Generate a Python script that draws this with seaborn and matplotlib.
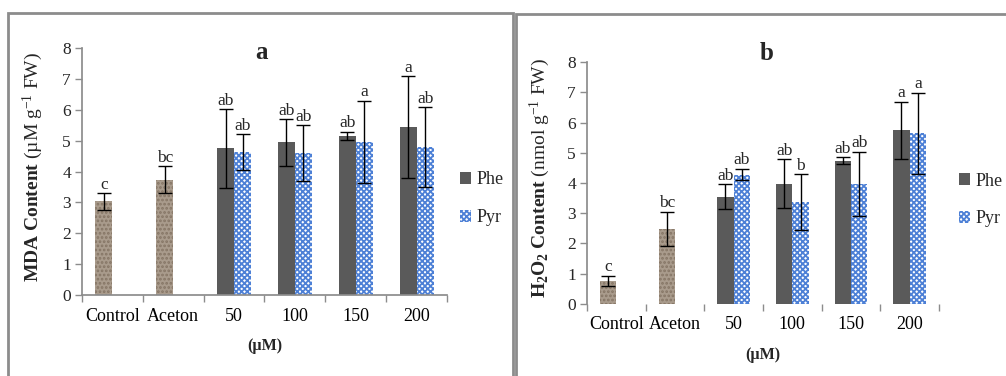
import numpy as np
import pandas as pd
import seaborn as sns
import matplotlib.pyplot as plt
from matplotlib.patches import Patch, Rectangle

sns.set_theme(style='white')
plt.rcParams['font.family'] = ['Liberation Serif', 'DejaVu Serif']
plt.rcParams['mathtext.fontset'] = 'custom'
plt.rcParams['mathtext.rm'] = 'Liberation Serif'
plt.rcParams['mathtext.it'] = 'Liberation Serif:italic'
plt.rcParams['mathtext.bf'] = 'Liberation Serif:bold'
plt.rcParams['hatch.linewidth'] = 1.3

groups = ['Control', 'Aceton', '50', '100', '150', '200']
treat = ['50', '100', '150', '200']

# panel a - MDA
mda_ctrl = [3.03, 3.74]
mda_ctrl_err = [0.27, 0.43]
mda_phe = [4.75, 4.94, 5.15, 5.44]
mda_phe_err = [1.27, 0.75, 0.14, 1.64]
mda_pyr = [4.63, 4.60, 4.97, 4.79]
mda_pyr_err = [0.57, 0.90, 1.33, 1.30]
mda_let_ctrl = ['c', 'bc']
mda_let_phe = ['ab', 'ab', 'ab', 'a']
mda_let_pyr = ['ab', 'ab', 'a', 'ab']

# panel b - H2O2
h2o2_ctrl = [0.76, 2.48]
h2o2_ctrl_err = [0.18, 0.57]
h2o2_phe = [3.55, 3.97, 4.74, 5.74]
h2o2_phe_err = [0.42, 0.81, 0.12, 0.95]
h2o2_pyr = [4.28, 3.37, 3.97, 5.64]
h2o2_pyr_err = [0.19, 0.92, 1.07, 1.35]
h2o2_let_ctrl = ['c', 'bc']
h2o2_let_phe = ['ab', 'ab', 'ab', 'a']
h2o2_let_pyr = ['ab', 'b', 'ab', 'a']


def make_df(ctrl, ctrl_err, phe, phe_err, pyr, pyr_err, l_ctrl, l_phe, l_pyr):
    rows = []
    for g, v, e, l in zip(['Control', 'Aceton'], ctrl, ctrl_err, l_ctrl):
        rows.append([g, 'Phe', v, e, l])
    for g, v, e, l in zip(treat, phe, phe_err, l_phe):
        rows.append([g, 'Phe', v, e, l])
    for g, v, e, l in zip(treat, pyr, pyr_err, l_pyr):
        rows.append([g, 'Pyr', v, e, l])
    return pd.DataFrame(rows, columns=['group', 'series', 'value', 'err', 'letter'])


df_a = make_df(mda_ctrl, mda_ctrl_err, mda_phe, mda_phe_err, mda_pyr, mda_pyr_err,
               mda_let_ctrl, mda_let_phe, mda_let_pyr)
df_b = make_df(h2o2_ctrl, h2o2_ctrl_err, h2o2_phe, h2o2_phe_err, h2o2_pyr, h2o2_pyr_err,
               h2o2_let_ctrl, h2o2_let_phe, h2o2_let_pyr)

phe_col = '#5a5a5a'
pyr_col = '#4d80d6'
ctrl_col = '#a99b8c'
ctrl_hatch = '#857565'
axis_col = '#8c8c8c'

fig = plt.figure(figsize=(10.06, 3.76), dpi=100)
ax_a = fig.add_axes([0.0815, 0.2154, 0.3628, 0.6569])
ax_b = fig.add_axes([0.5835, 0.1915, 0.3499, 0.6436])


def draw(ax, df, ylab, show_xline):
    sns.barplot(data=df, x='group', y='value', hue='series', order=groups,
                hue_order=['Phe', 'Pyr'], width=0.56, errorbar=None,
                palette=[phe_col, pyr_col], linewidth=0, ax=ax)
    for c, s in zip(ax.containers, ['Phe', 'Pyr']):
        sub = df[df['series'] == s].set_index('group')
        present = [g for g in groups if g in sub.index]
        for bar, g in zip(c, present):
            if s == 'Pyr':
                bar.set_facecolor('white')
                bar.set_edgecolor(pyr_col)
                bar.set_hatch('xxxxxx')
                bar.set_linewidth(0)
            elif g in ['Control', 'Aceton']:
                bar.set_facecolor(ctrl_col)
                bar.set_edgecolor(ctrl_hatch)
                bar.set_hatch('....')
                bar.set_linewidth(0)
            xc = bar.get_x() + bar.get_width() / 2
            v = sub.loc[g, 'value']
            e = sub.loc[g, 'err']
            ax.errorbar(xc, v, yerr=e, fmt='none', ecolor='black', elinewidth=1,
                        capsize=5, capthick=1)
            ax.text(xc, v + e + 0.01, sub.loc[g, 'letter'], ha='center', va='bottom',
                    fontsize=12.5)
    ax.legend_.remove()
    ax.set_ylim(0, 8)
    ax.set_xlim(-0.5, 5.5)
    ax.set_yticks(range(0, 9))
    ax.set_xticks(range(6))
    ax.set_xticklabels(groups)
    ax.set_xticks(np.arange(-0.5, 6, 1), minor=True)
    ax.tick_params(axis='x', which='major', length=0, labelsize=13, pad=9, colors='black')
    ax.tick_params(axis='x', which='minor', length=5, width=1, color=axis_col, bottom=True)
    ax.tick_params(axis='y', length=5, width=1, color=axis_col, labelsize=12.5, left=True, pad=3)
    for sp in ['top', 'right']:
        ax.spines[sp].set_visible(False)
    ax.spines['left'].set_color(axis_col)
    ax.spines['bottom'].set_color(axis_col)
    ax.spines['bottom'].set_visible(show_xline)
    ax.set_xlabel('(µM)', fontsize=11.5, fontweight='bold', labelpad=10)
    ax.set_ylabel(ylab, fontsize=14)
    ax.yaxis.set_label_coords(-0.10, 0.52)


draw(ax_a, df_a, r'$\mathbf{MDA\ Content}$ (µM g$^{-1}$ FW)', True)
draw(ax_b, df_b, r'$\mathbf{H_2O_2\ Content}$ (nmol g$^{-1}$ FW)', False)

fig.text(0.260, 0.843, 'a', fontsize=18, fontweight='bold', ha='center', va='baseline')
fig.text(0.762, 0.840, 'b', fontsize=18, fontweight='bold', ha='center', va='baseline')

handles = [Patch(facecolor=phe_col, edgecolor=phe_col, linewidth=0),
           Patch(facecolor='white', edgecolor=pyr_col, hatch='xxxxxx', linewidth=0)]
for xl, yl in [(0.448, 0.472), (0.944, 0.468)]:
    fig.legend(handles, ['Phe', 'Pyr'], loc='center left', bbox_to_anchor=(xl, yl),
               frameon=False, fontsize=13, handlelength=0.65, handleheight=0.65,
               handletextpad=0.3, labelspacing=1.15, borderpad=0)

# panel frames
fig.patches.append(Rectangle((8 / 1006, -0.1), (513 - 8) / 1006, 1.1 - 13 / 376,
                             transform=fig.transFigure, fill=False,
                             edgecolor=axis_col, linewidth=2))
fig.patches.append(Rectangle((516 / 1006, -0.1), 0.6, 1.1 - 14 / 376,
                             transform=fig.transFigure, fill=False,
                             edgecolor=axis_col, linewidth=2))

plt.savefig('out.png', dpi=100)
